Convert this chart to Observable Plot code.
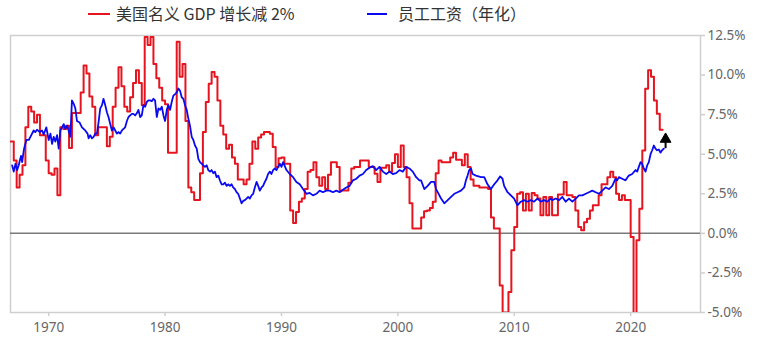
<!DOCTYPE html>
<html>
<head>
<meta charset="utf-8">
<script src="https://cdn.jsdelivr.net/npm/d3@7"></script>
<script src="https://cdn.jsdelivr.net/npm/@observablehq/plot@0.6"></script>
<style>
  html, body { margin: 0; padding: 0; background: #fff; }
  #wrap { position: relative; width: 763px; height: 359px; overflow: hidden; }
  #legend { position: relative; height: 28px; font-family: "Noto Sans CJK SC", "Noto Sans", sans-serif; font-size: 16px; color: #333; }
  .sw { position: absolute; top: 13px; height: 2px; }
  .lt { position: absolute; top: 2px; line-height: 22px; white-space: nowrap; }
</style>
</head>
<body>
<div id="wrap">
  <div id="legend"></div>
  <div id="chart"></div>
</div>
<script>
// ---- Data ----
const seriesNames = ["美国名义 GDP 增长减 2%", "员工工资（年化）"];
const seriesColors = ["#e6141e", "#0a0af0"];

// Nominal GDP growth minus 2% (quarterly, first quarter = 1966 Q4)
const gdpStartYear = 1966.75;
const gdpValues = [
  5.8,
  4.6, 2.9, 3.7, 4.3,     // 1967
  6.7, 8.0, 7.7, 7.0,     // 1968
  7.5, 6.2, 6.2, 4.6,     // 1969
  3.8, 3.7, 4.1, 2.4,     // 1970
  6.7, 6.6, 6.8, 5.4,     // 1971
  7.6, 7.6, 7.6, 8.9,     // 1972
  10.6, 10.1, 8.65, 8.0,  // 1973
  6.2, 6.7, 6.7, 6.7,     // 1974
  5.5, 6.1, 8.0, 9.2,     // 1975
  10.5, 9.3, 8.0, 7.7,    // 1976
  8.6, 9.5, 10.3, 9.5,    // 1977
  8.1, 12.4, 11.9, 12.4,  // 1978
  10.7, 9.8, 9.2, 8.4,    // 1979
  8.15, 5.1, 5.1, 5.1,    // 1980
  12.1, 9.9, 10.7, 7.1,   // 1981
  2.9, 2.6, 2.1, 2.1,     // 1982
  3.8, 6.4, 8.3, 9.45,    // 1983
  10.2, 9.9, 8.4, 6.8,    // 1984
  6.25, 5.35, 5.6, 4.8,   // 1985
  4.4, 3.4, 3.4, 3.1,     // 1986
  3.4, 4.4, 5.8, 5.35,    // 1987
  6.05, 6.25, 6.4, 6.4,   // 1988
  6.3, 5.45, 4.2, 4.75,   // 1989
  4.8, 4.4, 4.4, 1.45,    // 1990
  0.65, 1.35, 2.0, 2.2,   // 1991
  2.8, 3.9, 4.0, 4.5,     // 1992
  3.55, 3.0, 3.55, 2.8,   // 1993
  3.7, 4.5, 4.5, 4.2,     // 1994
  2.7, 2.7, 2.7, 3.2,     // 1995
  4.1, 4.2, 4.2, 4.6,     // 1996
  4.6, 4.6, 4.2, 4.2,     // 1997
  3.77, 3.25, 4.15, 4.15, // 1998
  4.3, 3.9, 4.45, 5.0,    // 1999
  4.2, 5.55, 4.2, 3.55,   // 2000
  1.9, 0.3, 0.3, 0.3,     // 2001
  1.0, 1.4, 1.45, 1.6,    // 2002
  2.0, 3.8, 4.6, 4.5,     // 2003
  4.5, 4.5, 4.8, 5.1,     // 2004
  4.65, 4.65, 4.3, 5.0,   // 2005
  4.2, 3.4, 3.0, 3.0,     // 2006
  2.9, 2.9, 2.9, 2.8,     // 2007
  1.0, 0.3, 0.3, -3.3,    // 2008
  -5.0, -5.0, -3.7, -1.07,// 2009
  0.4, 2.5, 2.6, 1.45,    // 2010
  2.5, 1.45, 2.55, 2.4,   // 2011
  2.2, 1.14, 2.3, 1.14,   // 2012
  2.3, 1.14, 1.14, 2.46,  // 2013
  2.46, 3.25, 2.4, 2.4,   // 2014
  2.3, 1.45, 0.4, 0.2,    // 2015
  0.7, 0.93, 1.45, 1.77,  // 2016
  1.77, 2.4, 3.1, 3.1,    // 2017
  3.55, 3.9, 3.55, 2.5,   // 2018
  2.1, 2.4, 2.1, 2.1,     // 2019
  -0.23, -9.5, -0.44, 1.56, // 2020
  5.24, 9.14, 10.3, 9.9,  // 2021
  8.4, 7.56, 6.55         // 2022
];

// Employee wages (annualized)
const wageYears = [
  1966.86,1967.0,1967.15,1967.29,1967.43,1967.52,1967.63,1967.72,1967.86,1967.92,
  1968.09,1968.29,1968.43,1968.71,1968.86,1969.0,1969.23,1969.43,1969.57,1969.8,
  1970.0,1970.15,1970.29,1970.43,1970.57,1970.72,1970.86,1971.0,1971.15,1971.29,
  1971.43,1971.58,1971.71,1971.86,1972.0,1972.14,1972.29,1972.43,1972.66,1972.86,
  1973.0,1973.14,1973.34,1973.43,1973.57,1973.72,1973.86,1974.0,1974.15,1974.28,
  1974.43,1974.58,1974.71,1974.86,1975.0,1975.14,1975.29,1975.43,1975.57,1975.72,
  1975.86,1976.0,1976.14,1976.29,1976.43,1976.57,1976.72,1976.86,1977.0,1977.15,
  1977.28,1977.43,1977.58,1977.71,1977.86,1978.0,1978.14,1978.29,1978.43,1978.57,
  1978.71,1978.86,1979.0,1979.14,1979.29,1979.43,1979.57,1979.72,1979.86,1980.0,
  1980.15,1980.28,1980.43,1980.57,1980.71,1980.86,1981.0,1981.14,1981.29,1981.43,
  1981.57,1981.71,1981.86,1982.0,1982.14,1982.29,1982.43,1982.57,1982.72,1982.86,
  1983.0,1983.14,1983.28,1983.43,1983.57,1983.71,1983.86,1984.0,1984.14,1984.28,
  1984.43,1984.57,1984.71,1984.86,1985.0,1985.14,1985.29,1985.43,1985.57,1985.72,
  1985.85,1986.0,1986.14,1986.28,1986.43,1986.57,1986.71,1986.86,1987.0,1987.14,
  1987.28,1987.43,1987.57,1987.71,1987.86,1988.0,1988.14,1988.29,1988.42,1988.57,
  1988.71,1988.85,1989.0,1989.14,1989.28,1989.43,1989.57,1989.71,1989.86,1990.0,
  1990.14,1990.43,1990.71,1991.0,1991.28,1991.57,1991.85,1992.14,1992.42,1992.71,
  1993.0,1993.28,1993.56,1993.85,1994.14,1994.42,1994.71,1995.0,1995.28,1995.57,
  1995.85,1996.14,1996.43,1996.71,1997.0,1997.28,1997.57,1997.85,1998.14,1998.42,
  1998.71,1999.0,1999.28,1999.56,1999.85,2000.14,2000.42,2000.71,2000.99,2001.28,
  2001.57,2001.85,2001.99,2002.27,2002.56,2002.85,2003.13,2003.28,2003.42,2003.71,
  2003.99,2004.28,2004.57,2004.85,2005.13,2005.42,2005.7,2005.85,2005.99,2006.13,
  2006.28,2006.42,2006.71,2007.14,2007.42,2007.7,2007.99,2008.28,2008.56,2008.79,
  2008.99,2009.13,2009.42,2009.71,2009.99,2010.27,2010.56,2010.85,2011.13,2011.42,
  2011.7,2011.99,2012.28,2012.56,2012.85,2013.14,2013.27,2013.56,2013.85,2014.13,
  2014.42,2014.7,2014.99,2015.28,2015.56,2015.85,2016.14,2016.42,2016.7,2016.99,
  2017.27,2017.56,2017.85,2018.13,2018.42,2018.7,2018.84,2018.99,2019.27,2019.56,
  2019.84,2020.13,2020.42,2020.56,2020.7,2020.85,2020.98,2021.13,2021.28,2021.42,
  2021.56,2021.71,2021.85,2021.99,2022.13,2022.27,2022.42,2022.56,2022.7,2022.85
];
const wageValues = [
  4.3,3.9,4.4,4.0,4.3,4.6,4.9,4.5,5.25,5.45,
  5.9,5.9,6.1,6.5,6.4,6.55,6.4,6.5,6.25,6.7,
  5.9,6.3,5.65,6.1,5.8,6.2,5.35,6.5,6.7,6.9,
  6.6,6.8,6.5,6.1,8.4,8.2,7.9,7.1,7.0,6.7,
  6.6,6.5,6.3,6.0,6.2,6.0,6.1,6.3,6.3,7.0,
  7.9,8.1,8.5,8.1,7.65,7.35,6.9,6.5,6.7,6.5,
  6.3,6.4,6.3,6.5,6.6,6.7,7.1,7.35,7.45,7.55,
  7.55,7.45,7.6,7.8,7.35,7.45,8.1,8.0,8.3,8.4,
  8.4,8.35,8.5,8.4,7.35,7.9,7.8,8.0,7.45,7.1,
  7.8,8.1,7.8,8.3,8.7,8.8,8.9,9.15,9.0,8.6,
  8.5,8.1,7.8,7.25,6.8,6.1,5.9,5.55,5.35,4.7,
  4.5,4.4,4.3,4.2,4.3,4.0,3.9,4.0,3.8,3.9,
  3.55,3.65,3.35,3.1,3.1,3.2,3.0,3.1,3.0,3.1,
  2.9,2.8,2.6,2.5,2.2,1.9,2.05,2.1,2.2,2.3,
  2.2,2.4,2.5,2.9,3.25,3.0,2.7,2.9,3.0,3.25,
  3.45,3.75,3.9,3.75,4.0,4.1,4.0,4.2,4.4,4.2,
  4.5,4.0,3.75,3.55,3.25,3.1,2.8,2.5,2.55,2.4,
  2.5,2.7,2.6,2.7,2.7,2.6,2.7,2.6,2.75,2.9,
  3.0,3.35,3.45,3.65,3.75,4.0,4.15,4.25,4.0,4.2,
  3.9,3.75,3.9,3.75,3.8,4.0,3.9,4.2,4.1,3.9,
  3.55,3.35,3.35,2.8,3.0,3.25,3.25,2.8,2.6,2.2,
  1.9,2.1,2.3,2.5,2.6,2.7,2.9,3.35,3.65,4.0,
  4.1,3.75,3.65,3.55,3.55,3.1,2.8,3.1,3.35,3.6,
  3.45,3.0,2.6,2.4,2.2,1.77,2.0,2.1,2.0,2.1,
  2.0,2.2,2.0,2.1,2.0,2.2,2.1,2.2,2.1,2.3,
  2.0,2.2,2.0,2.2,2.4,2.4,2.5,2.6,2.7,2.6,
  2.5,2.7,2.9,2.8,3.0,3.45,3.35,3.55,3.45,3.35,
  3.65,3.75,4.0,3.9,4.2,4.5,4.4,4.1,3.9,4.3,
  4.5,5.0,5.25,5.55,5.35,5.25,5.3,5.1,5.25,5.35
];

// Axis ticks
const xTicks = [1970, 1980, 1990, 2000, 2010, 2020];
const yTicks = [-5, -2.5, 0, 2.5, 5, 7.5, 10, 12.5];

// Arrow annotation (year, from value, to value)
const arrowYear = [2023.0];
const arrowFrom = 5.35;
const arrowHead = 5.95;

// ---- Build tables ----
const gdp = gdpValues.map((v, i) => ({year: gdpStartYear + i / 4, value: v}));
gdp.push({year: gdpStartYear + gdpValues.length / 4, value: gdpValues[gdpValues.length - 1]});
const wages = wageYears.map((y, i) => ({year: y, value: wageValues[i]}));

// ---- Legend ----
const legend = document.getElementById("legend");
legend.innerHTML = `
  <div class="sw" style="left:88px;width:22px;background:${seriesColors[0]}"></div>
  <div class="lt" style="left:116px">${seriesNames[0]}</div>
  <div class="sw" style="left:367px;width:20px;background:${seriesColors[1]}"></div>
  <div class="lt" style="left:398px">${seriesNames[1]}</div>`;

// ---- Chart ----
const chart = Plot.plot({
  width: 763,
  height: 331,
  marginTop: 7,
  marginBottom: 47,
  marginLeft: 10,
  marginRight: 63,
  style: {fontFamily: "'Noto Sans', sans-serif", fontSize: "13.5px", color: "#666", background: "#fff", overflow: "visible"},
  x: {domain: [1966.72, 2026], ticks: xTicks, tickFormat: d => String(d), tickSize: 4, tickPadding: 6, label: null},
  y: {domain: [-5, 12.5], ticks: yTicks, tickFormat: d => d.toFixed(1) + "%", axis: "right", tickSize: 4, tickPadding: 3, label: null},
  marks: [
    Plot.frame({stroke: "#cfcfcf", strokeWidth: 1.5}),
    Plot.ruleY([0], {stroke: "#7a7a7a", strokeWidth: 1.5}),
    Plot.line(gdp, {x: "year", y: "value", curve: "step-after", stroke: seriesColors[0], strokeWidth: 2, clip: true}),
    Plot.line(wages, {x: "year", y: "value", stroke: seriesColors[1], strokeWidth: 1.8, clip: true}),
    Plot.ruleX(arrowYear, {x: d => d, y1: arrowFrom, y2: arrowHead, stroke: "#000", strokeWidth: 2}),
    Plot.dot(arrowYear, {x: d => d, y: arrowHead, symbol: "triangle", r: 4, fill: "#000", stroke: "#000", strokeWidth: 1})
  ]
});
document.getElementById("chart").appendChild(chart);

// Light-gray tick marks
d3.select(chart).selectAll('[aria-label^="x-axis"] line, [aria-label^="x-axis"] path, [aria-label^="y-axis"] line, [aria-label^="y-axis"] path')
  .attr("stroke", "#cfcfcf").attr("stroke-width", 1.5);
</script>
</body>
</html>
